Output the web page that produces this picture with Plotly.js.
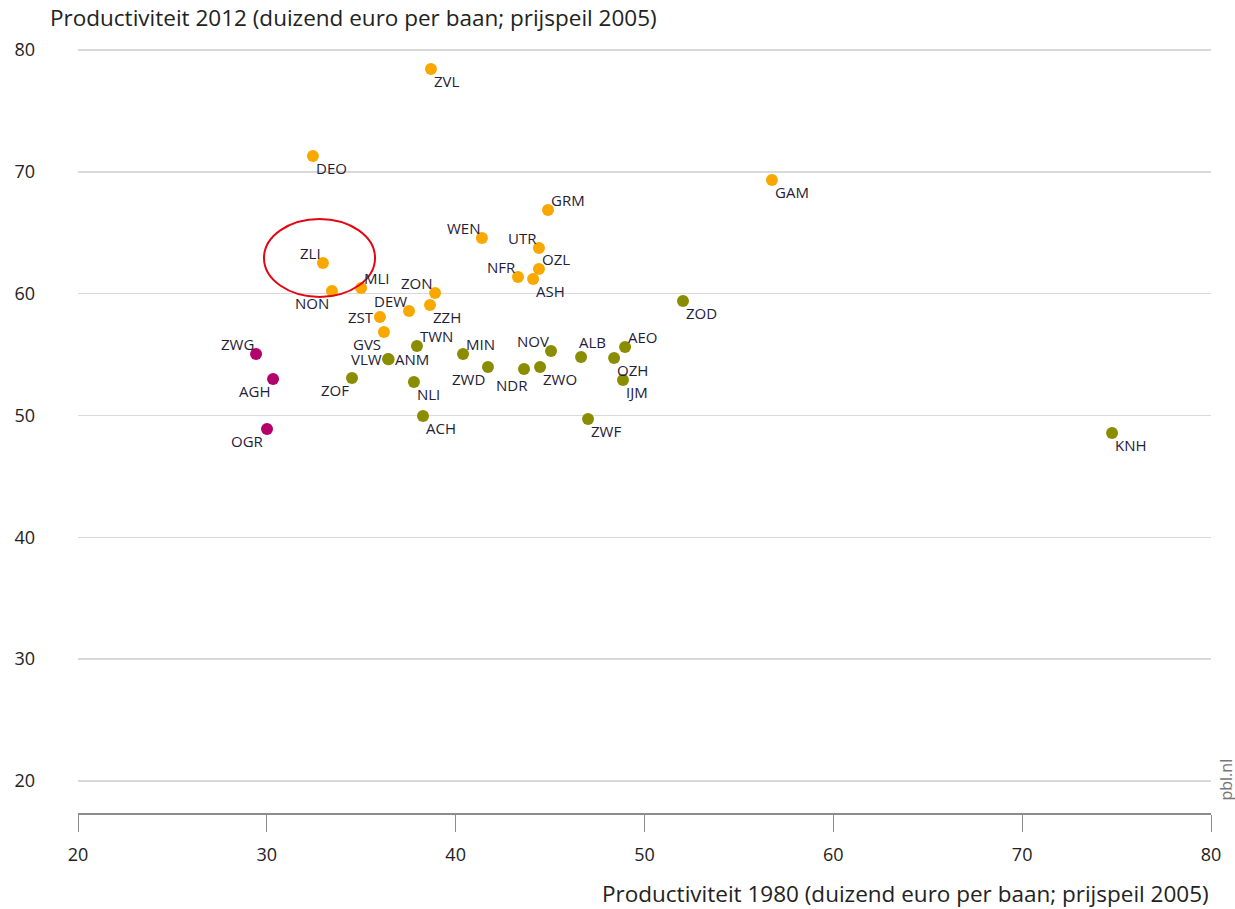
<!DOCTYPE html>
<html>
<head>
<meta charset="utf-8">
<script src="https://cdn.plot.ly/plotly-3.0.1.min.js"></script>
<style>html,body{margin:0;padding:0;background:#fff;}#chart{width:1235px;height:909px;}</style>
</head>
<body>
<div id="chart"></div>
<script>
// ---- data ----
const orangeNames = ["ZVL","DEO","GAM","GRM","WEN","UTR","ZLI","OZL","NFR","ASH","MLI","NON","ZON","ZZH","DEW","ZST","GVS"];
const orange1980  = [38.69,32.44,56.75,44.89,41.39,44.41,32.97,44.41,43.30,44.10,34.99,33.45,38.91,38.64,37.53,35.99,36.20];
const orange2012  = [78.44,71.30,69.33,66.87,64.57,63.75,62.52,62.02,61.37,61.20,60.46,60.22,60.05,59.07,58.58,58.08,56.85];

const oliveNames = ["ZOD","TWN","VLW","ANM","ZOF","NLI","ACH","MIN","ZWD","NDR","ZWO","NOV","ALB","AEO","OZH","IJM","ZWF","KNH"];
const olive1980  = [52.04,37.95,36.42,36.45,34.51,37.79,38.27,40.39,41.71,43.62,44.47,45.05,46.64,48.97,48.39,48.86,47.01,74.76];
const olive2012  = [59.40,55.70,54.64,54.62,53.08,52.75,49.96,55.05,53.98,53.82,53.98,55.29,54.80,55.62,54.72,52.91,49.71,48.56];

const magentaNames = ["ZWG","AGH","OGR"];
const magenta1980  = [29.43,30.33,30.01];
const magenta2012  = [55.05,53.00,48.89];

const xTicks = [20,30,40,50,60,70,80];
const yTicks = [20,30,40,50,60,70,80];
const highlightBox = [29.85, 35.73, 59.73, 66.13]; // ZLI circle: x0,x1,y0,y1

// ---- styling (label placement: BR bottom-right, TR top-right, TL top-left, BL bottom-left, L left, R right, T top, B bottom) ----
const orangePos  = ["BR","BR","BR","TR","TL","TL","TL","TR","TL","BR","TR","BL","TL","BR","TL","L","BL"];
const olivePos   = ["BR","TR","L","R","BL","BR","BR","TR","BL","B","BR","TL","T","TR","BR","BR","BR","BR"];
const magentaPos = ["TL","BL","BL"];

const FONT = "Open Sans, Noto Sans, sans-serif";
const txtFont = {family: FONT, size: 15, color: "#1f2038"};

const placement = {
  BR: {xanchor: "left",   xshift: 1,  yshift: -12},
  TR: {xanchor: "left",   xshift: 1,  yshift: 10},
  TL: {xanchor: "right",  xshift: 0,  yshift: 10},
  BL: {xanchor: "right",  xshift: -1, yshift: -12},
  L:  {xanchor: "right",  xshift: -4, yshift: 0},
  R:  {xanchor: "left",   xshift: 4,  yshift: 0},
  T:  {xanchor: "left",   xshift: -4, yshift: 15},
  B:  {xanchor: "center", xshift: -12, yshift: -16}
};

function mk(x, y, names, color) {
  return {
    type: "scatter", mode: "markers",
    x: x, y: y, text: names,
    marker: {size: 12, color: color, line: {width: 0}},
    cliponaxis: false, hoverinfo: "text", showlegend: false
  };
}
function labels(x, y, names, pos) {
  return names.map((n, i) => Object.assign({
    text: n, x: x[i], y: y[i], xref: "x", yref: "y",
    yanchor: "middle", showarrow: false, font: txtFont
  }, placement[pos[i]]));
}

const traces = [
  mk(orange1980, orange2012, orangeNames, "#f9a800"),
  mk(olive1980, olive2012, oliveNames, "#8a8d00"),
  mk(magenta1980, magenta2012, magentaNames, "#b3006a")
];

const annotations = [].concat(
  labels(orange1980, orange2012, orangeNames, orangePos),
  labels(olive1980, olive2012, oliveNames, olivePos),
  labels(magenta1980, magenta2012, magentaNames, magentaPos),
  [
    {text: "Productiviteit 2012 (duizend euro per baan; prijspeil 2005)", xref: "paper", yref: "paper",
     x: -0.0265, y: 1.0285, xanchor: "left", yanchor: "middle", showarrow: false,
     font: {family: FONT, size: 22.5, color: "#222"}},
    {text: "Productiviteit 1980 (duizend euro per baan; prijspeil 2005)", xref: "paper", yref: "paper",
     x: 1, y: -0.1035, xanchor: "right", yanchor: "middle", showarrow: false,
     font: {family: FONT, size: 22.5, color: "#222"}},
    {text: "pbl.nl", xref: "paper", yref: "paper", x: 1.0128, y: 0.0427,
     xanchor: "center", yanchor: "middle", textangle: -90, showarrow: false,
     font: {family: FONT, size: 16, color: "#777"}}
  ]
);

const layout = {
  width: 1235, height: 909,
  margin: {l: 78, r: 24, t: 40, b: 96},
  paper_bgcolor: "#fff", plot_bgcolor: "#fff",
  showlegend: false,
  xaxis: {
    range: [20, 80], tickvals: xTicks, ticktext: xTicks.map(String),
    showgrid: false, zeroline: false,
    showline: true, linecolor: "#8c8c8c", linewidth: 1.5,
    ticks: "outside", ticklen: 17, tickwidth: 1, tickcolor: "#8c8c8c",
    tickfont: {family: FONT, size: 18, color: "#222"},
    ticklabelstandoff: 8
  },
  yaxis: {
    range: [17.373, 80.821], tickvals: yTicks, ticktext: yTicks.map(String),
    showgrid: true, gridcolor: "#d9d9d9", gridwidth: 1.5,
    zeroline: false, showline: false, ticks: "",
    tickfont: {family: FONT, size: 18, color: "#222"},
    ticklabelstandoff: 42
  },
  shapes: [{
    type: "circle", xref: "x", yref: "y",
    x0: highlightBox[0], x1: highlightBox[1], y0: highlightBox[2], y1: highlightBox[3],
    line: {color: "#e30613", width: 2}
  }],
  annotations: annotations
};

Plotly.newPlot("chart", traces, layout, {displayModeBar: false, staticPlot: true});
</script>
</body>
</html>
